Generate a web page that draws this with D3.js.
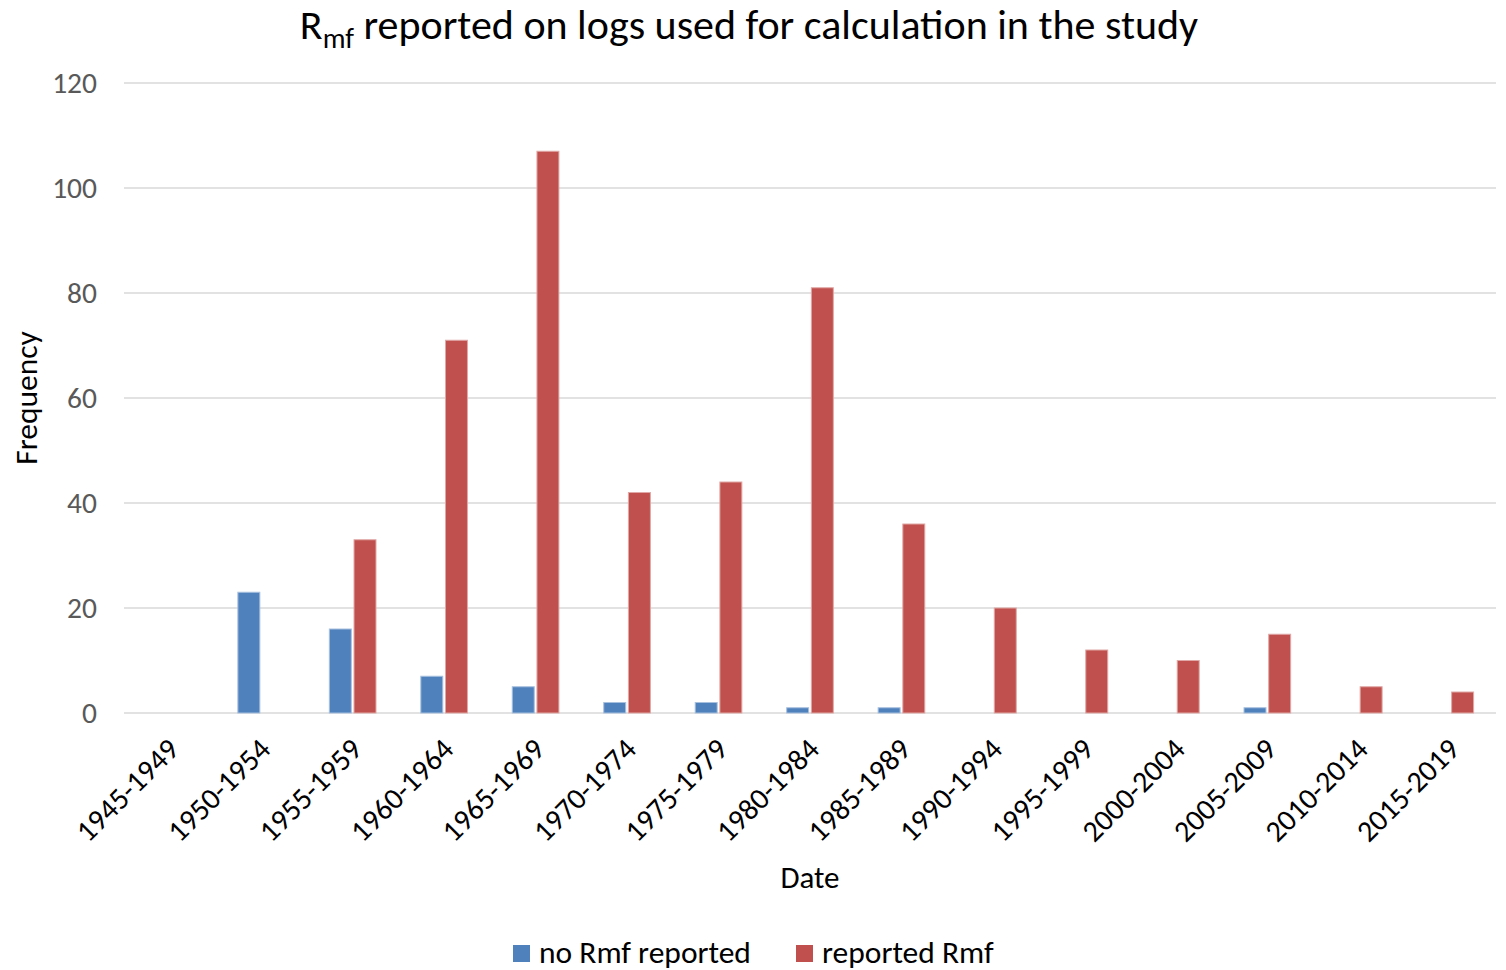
<!DOCTYPE html>
<html>
<head>
<meta charset="utf-8">
<script src="https://cdn.jsdelivr.net/npm/d3@7"></script>
<style>
  html, body { margin: 0; padding: 0; background: #fff; }
  svg { display: block; font-family: Carlito, Calibri, Lato, "Open Sans", sans-serif; }
</style>
</head>
<body>
<svg id="chart" width="1506" height="970"></svg>
<script>
// Five-year periods and counts of logs per period
const periods = ["1945-1949","1950-1954","1955-1959","1960-1964","1965-1969","1970-1974",
  "1975-1979","1980-1984","1985-1989","1990-1994","1995-1999","2000-2004","2005-2009",
  "2010-2014","2015-2019"];
const noRmfReported = [0,23,16,7,5,2,2,1,1,0,0,0,1,0,0];
const reportedRmf   = [0,0,33,71,107,42,44,81,36,20,12,10,15,5,4];
const seriesNames = ["no Rmf reported","reported Rmf"];
const seriesColors = ["#4F81BD","#C0504D"];
const seriesStrokes = ["#a7c0de","#e0a8a6"];
const yTicks = [0,20,40,60,80,100,120];

const FONT = "Carlito, Calibri, Lato, 'Open Sans', sans-serif";
const svg = d3.select("#chart");
const margin = {left: 124, right: 10, top: 83, bottom: 257};
const W = 1506, H = 970;
const plotW = W - margin.left - margin.right;
const plotH = H - margin.top - margin.bottom;

const x = d3.scaleBand().domain(periods).range([margin.left, margin.left + plotW]).padding(0);
const inner = d3.scaleBand().domain([0,1]).range([x.bandwidth()*0.245, x.bandwidth()*0.755]).paddingInner(0.11);
const y = d3.scaleLinear().domain([0,120]).range([margin.top + plotH, margin.top]);

// Horizontal gridlines
svg.append("g").selectAll("line").data(yTicks).join("line")
  .attr("x1", margin.left).attr("x2", margin.left + plotW)
  .attr("y1", d => y(d)).attr("y2", d => y(d))
  .attr("stroke", "#d9d9d9").attr("stroke-width", 1.5);

// Y axis labels
const yAxis = d3.axisLeft(y).tickValues(yTicks).tickSize(0).tickPadding(0);
const gy = svg.append("g").attr("transform", `translate(${margin.left - 27},0)`).call(yAxis);
gy.select(".domain").remove();
gy.selectAll("text").attr("fill", "#595959").style("font-size", "29.5px")
  .style("font-family", FONT);

// Bars
const series = [noRmfReported, reportedRmf];
series.forEach((vals, si) => {
  svg.append("g").selectAll("rect").data(vals).join("rect")
    .attr("x", (d, i) => x(periods[i]) + inner(si))
    .attr("width", inner.bandwidth())
    .attr("y", d => y(d))
    .attr("height", d => y(0) - y(d))
    .attr("fill", seriesColors[si])
    .attr("stroke", seriesStrokes[si])
    .attr("stroke-width", d => d > 0 ? 1 : 0);
});

// X axis labels, rotated
const xAxis = d3.axisBottom(x).tickSize(0).tickPadding(0);
const gx = svg.append("g").attr("transform", `translate(0,${y(0)})`).call(xAxis);
gx.select(".domain").remove();
gx.selectAll("text")
  .attr("fill", "#000").style("font-size", "30px")
  .style("font-family", FONT)
  .attr("text-anchor", "end")
  .attr("dy", null).attr("y", 0)
  .attr("transform", "translate(11,38) rotate(-45)");

// Title
const title = svg.append("text").attr("x", 749).attr("y", 39)
  .attr("text-anchor", "middle").attr("fill", "#000").style("font-size", "42px");
title.append("tspan").text("R");
title.append("tspan").attr("dy", 9).style("font-size", "28.5px").text("mf");
title.append("tspan").attr("dy", -9).text(" reported on logs used for calculation in the study");

// Axis titles
svg.append("text").attr("transform", "translate(37,398) rotate(-90)")
  .attr("text-anchor", "middle").attr("fill", "#000").style("font-size", "31.5px").text("Frequency");
svg.append("text").attr("x", 810).attr("y", 888)
  .attr("text-anchor", "middle").attr("fill", "#000").style("font-size", "31px").text("Date");

// Legend
const legendX = [513, 796];
const lg = svg.append("g").selectAll("g").data(seriesNames).join("g")
  .attr("transform", (d, i) => `translate(${legendX[i]},945)`);
lg.append("rect").attr("width", 17).attr("height", 17).attr("fill", (d, i) => seriesColors[i]);
lg.append("text").attr("x", 26).attr("y", 18).attr("fill", "#000")
  .style("font-size", "31.5px").text(d => d);
</script>
</body>
</html>
